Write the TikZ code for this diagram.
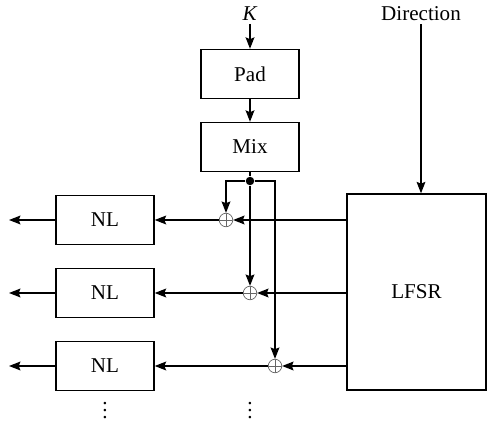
\documentclass[tikz,border=0pt]{standalone}
\usepackage{fontspec}
\setmainfont{Liberation Serif}
\usepackage{tikz}
\usetikzlibrary{arrows.meta, positioning, calc}

\begin{document}
\begin{tikzpicture}[
  x=0.02cm, y=-0.02cm,
  blk/.style={rectangle, draw=black, line width=0.8pt,
              minimum width=1.96cm, minimum height=0.98cm,
              text centered, font=\fontsize{12}{14}\selectfont},
  reg/.style={rectangle, draw=black, line width=0.8pt,
              minimum width=2.78cm, minimum height=3.92cm,
              text centered, font=\fontsize{12}{14}\selectfont},
  xor/.style={circle, draw=black!60, line width=0.4pt, inner sep=0pt,
              minimum size=0.27cm,
              path picture={\draw[black!60, line width=0.4pt]
                (path picture bounding box.north) -- (path picture bounding box.south)
                (path picture bounding box.west) -- (path picture bounding box.east);}},
  lbl/.style={inner sep=1.5pt, font=\fontsize{12}{14}\selectfont},
  junc/.style={circle, fill=black, inner sep=0pt, minimum size=0.17cm},
  arr/.style={-{Stealth[length=6.5pt, width=5pt, inset=1pt]}, line width=0.8pt},
  wire/.style={line width=0.8pt}
]
\useasboundingbox (0,0) rectangle (487,422);

\node[lbl]  (k)    at (250,14)   {\textit{K}};
\node[blk]  (pad)  at (250,74)   {Pad};
\node[blk]  (mix)  at (250,147)  {Mix};
\node[junc] (dot)  at (250,181)  {};
\node[lbl]  (dir)  at (421,14)   {Direction};
\node[reg]  (lfsr) at (416.5,292) {LFSR};

\node[xor]  (x1)   at (226,220)  {};
\node[xor]  (x2)   at (250,293)  {};
\node[xor]  (x3)   at (275,366)  {};

\node[blk]  (nl1)  at (105,220)  {NL};
\node[blk]  (nl2)  at (105,293)  {NL};
\node[blk]  (nl3)  at (105,366)  {NL};

\coordinate (o1) at (9,220);
\coordinate (o2) at (9,293);
\coordinate (o3) at (9,366);

\node[lbl] (vd1) at (105,405) {$\vdots$};
\node[lbl] (vd2) at (250,405) {$\vdots$};

\draw[arr]  (k)    -- (pad);
\draw[arr]  (pad)  -- (mix);
\draw[wire] (mix)  -- (dot);
\draw[arr]  (dot)  -| (x1);
\draw[arr]  (dot)  -- (x2);
\draw[arr]  (dot)  -| (x3);
\draw[arr]  (dir)  -- (dir |- lfsr.north);

\draw[arr]  (lfsr.west |- x1) -- (x1);
\draw[arr]  (lfsr.west |- x2) -- (x2);
\draw[arr]  (lfsr.west |- x3) -- (x3);

\draw[arr]  (x1)   -- (nl1);
\draw[arr]  (x2)   -- (nl2);
\draw[arr]  (x3)   -- (nl3);
\draw[arr]  (nl1)  -- (o1);
\draw[arr]  (nl2)  -- (o2);
\draw[arr]  (nl3)  -- (o3);
\end{tikzpicture}
\end{document}
